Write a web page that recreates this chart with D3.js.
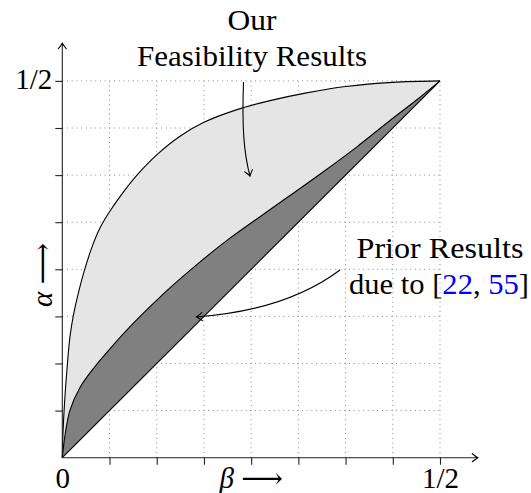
<!DOCTYPE html>
<html>

<head>
    <meta charset="utf-8">
    <title>feasibility region</title>
    <script src="https://d3js.org/d3.v7.min.js"></script>
    <style>
        body { margin: 0; background: #fff; }
        svg text { font-family: "Liberation Serif", "DejaVu Serif", "Noto Serif", serif; }
    </style>
</head>

<body>
    <div id="wrapper"></div>

    <script>
        // boundary of our feasibility results (beta, alpha)
        const upperBeta = [0, 0.0009, 0.0031, 0.0063, 0.0100, 0.0144, 0.0213, 0.0288, 0.0388, 0.0500, 0.0625,
            0.0813, 0.1000, 0.1250, 0.1563, 0.1875, 0.2313, 0.2750, 0.3250, 0.3750, 0.4375, 0.5];
        const upperAlpha = [0, 0.0325, 0.0750, 0.1188, 0.1594, 0.1875, 0.2188, 0.2469, 0.2781, 0.3050, 0.3263,
            0.3531, 0.3763, 0.4019, 0.4269, 0.4450, 0.4619, 0.4738, 0.4844, 0.4925, 0.4981, 0.5];

        // boundary of prior results [22, 55]
        const priorBeta = [0, 0.0038, 0.0100, 0.0238, 0.0425, 0.0625, 0.0938, 0.1338, 0.1781, 0.2219, 0.2663,
            0.3063, 0.3456, 0.3900, 0.4338, 0.4694, 0.5];
        const priorAlpha = [0, 0.0313, 0.0625, 0.0938, 0.1200, 0.1438, 0.1781, 0.2175, 0.2563, 0.2913, 0.3231,
            0.3513, 0.3794, 0.4125, 0.4475, 0.4750, 0.5];

        // alpha = beta
        const diagBeta = [0, 0.5];
        const diagAlpha = [0, 0.5];

        const gridValues = [0, 1 / 16, 2 / 16, 3 / 16, 4 / 16, 5 / 16, 6 / 16, 7 / 16, 8 / 16];
        const xTickLabels = ["0", "", "", "", "", "", "", "", "1/2"];
        const yTickLabels = ["", "", "", "", "", "", "", "", "1/2"];

        const dimensions = { width: 531, height: 493 };
        const serif = '"Liberation Serif", "DejaVu Serif", "Noto Serif", serif';

        const svg = d3.select("#wrapper").append("svg")
            .attr("width", dimensions.width).attr("height", dimensions.height);

        const xScale = d3.scaleLinear().domain([0, 0.5]).range([62.3, 440]);
        const yScale = d3.scaleLinear().domain([0, 0.5]).range([457.7, 80.9]);

        const defs = svg.append("defs");
        defs.append("marker").attr("id", "tip")
            .attr("markerUnits", "userSpaceOnUse")
            .attr("viewBox", "-8 -6 10 12").attr("markerWidth", 10).attr("markerHeight", 12)
            .attr("refX", 0).attr("refY", 0).attr("orient", "auto")
            .append("path")
            .attr("d", "M-5.5,-4 Q-1.5,-0.8 0,0 Q-1.5,0.8 -5.5,4")
            .attr("fill", "none").attr("stroke", "#000").attr("stroke-width", 1.1)
            .attr("stroke-linecap", "round");

        // dotted grid
        const grid = svg.append("g").attr("stroke", "#8a8a8a").attr("stroke-width", 1)
            .attr("stroke-dasharray", "1,3.7");
        grid.selectAll(".v").data(gridValues.slice(1)).join("line")
            .attr("x1", d => xScale(d)).attr("x2", d => xScale(d))
            .attr("y1", yScale(0)).attr("y2", yScale(0.5));
        grid.selectAll(".h").data(gridValues.slice(1)).join("line")
            .attr("y1", d => yScale(d)).attr("y2", d => yScale(d))
            .attr("x1", xScale(0)).attr("x2", xScale(0.5));

        const upper = upperBeta.map((b, i) => [b, upperAlpha[i]]);
        const prior = priorBeta.map((b, i) => [b, priorAlpha[i]]);
        const diag = diagBeta.map((b, i) => [b, diagAlpha[i]]);

        const lineGenerator = d3.line().x(d => xScale(d[0])).y(d => yScale(d[1]))
            .curve(d3.curveCatmullRom.alpha(0.5));

        // light region: upper curve down to diagonal
        svg.append("path")
            .attr("d", lineGenerator(upper) + "L" + xScale(0) + "," + yScale(0) + "Z")
            .attr("fill", "#e5e5e5");
        // dark region: prior curve down to diagonal
        svg.append("path")
            .attr("d", lineGenerator(prior) + "L" + xScale(0) + "," + yScale(0) + "Z")
            .attr("fill", "#808080");

        [upper, prior, diag].forEach(s => {
            svg.append("path").attr("d", lineGenerator(s))
                .attr("fill", "none").attr("stroke", "#000").attr("stroke-width", 1.1);
        });

        // axes
        const xAxisGenerator = d3.axisBottom(xScale).tickValues(gridValues)
            .tickFormat((d, i) => xTickLabels[i]).tickSize(7).tickSizeOuter(0);
        const xAxis = svg.append("g").attr("transform", `translate(0, ${yScale(0)})`).call(xAxisGenerator);
        xAxis.attr("font-family", null);
        xAxis.select(".domain").remove();
        xAxis.selectAll(".tick line").filter(d => d === 0).remove();
        xAxis.selectAll(".tick line").attr("stroke", "#222").attr("stroke-width", 1.1);
        xAxis.selectAll("text").attr("y", 30).attr("dy", 0)
            .style("font-family", serif).style("font-size", "29px").attr("fill", "#000");

        const yAxisGenerator = d3.axisLeft(yScale).tickValues(gridValues)
            .tickFormat((d, i) => yTickLabels[i]).tickSize(7).tickPadding(3).tickSizeOuter(0);
        const yAxis = svg.append("g").attr("transform", `translate(${xScale(0)}, 0)`).call(yAxisGenerator);
        yAxis.attr("font-family", null);
        yAxis.select(".domain").remove();
        yAxis.selectAll(".tick line").filter(d => d === 0).remove();
        yAxis.selectAll(".tick line").attr("stroke", "#222").attr("stroke-width", 1.1);
        yAxis.selectAll("text").attr("dy", "0.25em")
            .style("font-family", serif).style("font-size", "29px").attr("fill", "#000");

        svg.append("line")
            .attr("x1", xScale(0)).attr("y1", yScale(0)).attr("x2", xScale(0.55)).attr("y2", yScale(0))
            .attr("stroke", "#222").attr("stroke-width", 1.1).attr("marker-end", "url(#tip)");
        svg.append("line")
            .attr("x1", xScale(0)).attr("y1", yScale(0)).attr("x2", xScale(0)).attr("y2", yScale(0.55))
            .attr("stroke", "#222").attr("stroke-width", 1.1).attr("marker-end", "url(#tip)");

        // axis titles
        svg.append("text").attr("x", xScale(0.25)).attr("y", 488)
            .attr("text-anchor", "middle").style("font-family", serif).style("font-size", "29px")
            .html('<tspan font-style="italic">β</tspan> ⟶');
        svg.append("text").attr("transform", `translate(52, 275) rotate(-90)`)
            .attr("text-anchor", "middle").style("font-family", serif).style("font-size", "29px")
            .html('<tspan font-style="italic">α</tspan> ⟶');

        // annotations
        svg.append("text").attr("x", 252).attr("y", 30).attr("text-anchor", "middle")
            .style("font-family", serif).style("font-size", "29px")
            .attr("textLength", 49).attr("lengthAdjust", "spacingAndGlyphs")
            .text("Our");
        svg.append("text").attr("x", 252).attr("y", 65.5).attr("text-anchor", "middle")
            .style("font-family", serif).style("font-size", "29px")
            .attr("textLength", 230).attr("lengthAdjust", "spacingAndGlyphs")
            .text("Feasibility Results");
        svg.append("text").attr("x", 356.5).attr("y", 258)
            .style("font-family", serif).style("font-size", "29px")
            .attr("textLength", 167).attr("lengthAdjust", "spacingAndGlyphs")
            .text("Prior Results");
        svg.append("text").attr("x", 349).attr("y", 293.5)
            .style("font-family", serif).style("font-size", "29px")
            .attr("textLength", 180).attr("lengthAdjust", "spacingAndGlyphs")
            .html('due to [<tspan fill="#0000ff">22</tspan>, <tspan fill="#0000ff">55</tspan>]');

        svg.append("path").attr("d", "M243.5,82 C242,125 243.5,152 250,176")
            .attr("fill", "none").attr("stroke", "#000").attr("stroke-width", 1.1).attr("marker-end", "url(#tip)");
        svg.append("path").attr("d", "M340,270 C300,300 250,313 196.5,317")
            .attr("fill", "none").attr("stroke", "#000").attr("stroke-width", 1.1).attr("marker-end", "url(#tip)");
    </script>
</body>

</html>
